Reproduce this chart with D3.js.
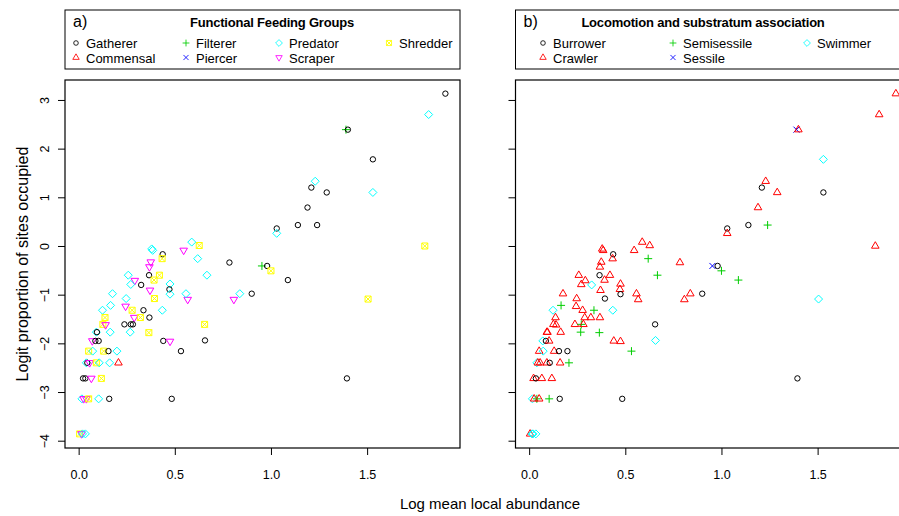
<!DOCTYPE html>
<html>
<head>
<meta charset="utf-8">
<script src="https://cdn.jsdelivr.net/npm/d3@7"></script>
<style>
  body { margin: 0; background: #fff; }
  text { font-family: "Liberation Sans", Arial, sans-serif; fill: #000; }
</style>
</head>
<body>
<svg id="chart" width="899" height="516"></svg>
<script>
// values (same taxa, coded two ways)
const abundance = [
  1.907, 1.82, 1.39, 1.40, 1.53, 1.53, 1.23, 1.21, 1.29, 1.19,
  1.14, 1.24, 1.03, 1.03, 0.784, 0.953, 0.98, 1.00, 1.088, 1.80,
  1.505, 1.395, 0.838, 0.807, 0.90, 0.655, 0.657, 0.667, 0.619, 0.627,
  0.588, 0.385, 0.38, 0.437, 0.546, 0.434, 0.375, 0.368, 0.258, 0.366,
  0.42, 0.292, 0.392, 0.271, 0.325, 0.475, 0.472, 0.371, 0.475, 0.394,
  0.567, 0.558, 0.176, 0.247, 0.166, 0.244, 0.124, 0.278, 0.337, 0.435,
  0.137, 0.289, 0.321, 0.368, 0.126, 0.14, 0.238, 0.271, 0.282, 0.164,
  0.268, 0.365, 0.092, 0.095, 0.071, 0.087, 0.104, 0.44, 0.475, 0.052,
  0.073, 0.13, 0.155, 0.199, 0.532, 0.04, 0.045, 0.057, 0.092, 0.107,
  0.161, 0.207, 0.023, 0.035, 0.066, 0.118, 0.017, 0.026, 0.04, 0.052,
  0.104, 0.159, 0.484, 0.005, 0.015, 0.02, 0.035
];
const logitOcc = [
  3.13, 2.70, 2.39, 2.39, 1.78, 1.10, 1.33, 1.20, 1.10, 0.79,
  0.43, 0.43, 0.36, 0.26, -0.34, -0.41, -0.41, -0.51, -0.70, 0.0,
  -1.09, -2.72, -0.98, -1.10, -0.98, -1.61, -1.94, -0.60, -0.26, 0.01,
  0.08, -0.09, -0.06, -0.17, -0.09, -0.26, -0.33, -0.43, -0.60, -0.60,
  -0.60, -0.71, -0.70, -0.79, -0.80, -0.78, -0.89, -0.91, -0.99, -1.08,
  -1.10, -0.98, -0.98, -1.08, -1.22, -1.24, -1.32, -1.32, -1.32, -1.32,
  -1.47, -1.47, -1.47, -1.47, -1.61, -1.62, -1.61, -1.61, -1.61, -1.77,
  -1.77, -1.78, -1.77, -1.77, -1.95, -1.95, -1.95, -1.95, -1.96, -2.16,
  -2.16, -2.16, -2.16, -2.16, -2.16, -2.40, -2.40, -2.40, -2.40, -2.40,
  -2.40, -2.40, -2.72, -2.72, -2.72, -2.72, -3.14, -3.14, -3.14, -3.14,
  -3.14, -3.14, -3.14, -3.86, -3.86, -3.86, -3.86
];
const feeding = [
  "Gatherer", "Predator", "Filterer", "Gatherer", "Gatherer", "Predator", "Predator", "Gatherer", "Gatherer", "Gatherer",
  "Gatherer", "Gatherer", "Gatherer", "Predator", "Gatherer", "Filterer", "Gatherer", "Shredder", "Gatherer", "Shredder",
  "Shredder", "Gatherer", "Predator", "Scraper", "Gatherer", "Shredder", "Gatherer", "Predator", "Predator", "Shredder",
  "Predator", "Predator", "Predator", "Gatherer", "Scraper", "Shredder", "Scraper", "Scraper", "Predator", "Gatherer",
  "Shredder", "Scraper", "Shredder", "Predator", "Gatherer", "Predator", "Gatherer", "Scraper", "Predator", "Shredder",
  "Scraper", "Predator", "Predator", "Predator", "Predator", "Scraper", "Predator", "Shredder", "Gatherer", "Predator",
  "Shredder", "Scraper", "Shredder", "Gatherer", "Shredder", "Scraper", "Gatherer", "Gatherer", "Gatherer", "Predator",
  "Predator", "Shredder", "Predator", "Gatherer", "Scraper", "Gatherer", "Gatherer", "Gatherer", "Scraper", "Shredder",
  "Predator", "Shredder", "Gatherer", "Predator", "Gatherer", "Predator", "Gatherer", "Scraper", "Shredder", "Predator",
  "Predator", "Commensal", "Gatherer", "Gatherer", "Scraper", "Shredder", "Predator", "Scraper", "Scraper", "Shredder",
  "Predator", "Gatherer", "Gatherer", "Shredder", "Scraper", "Predator", "Predator"
];
const locomotion = [
  "Crawler", "Crawler", "Sessile", "Crawler", "Swimmer", "Burrower", "Crawler", "Burrower", "Crawler", "Crawler",
  "Burrower", "Semisessile", "Burrower", "Crawler", "Crawler", "Sessile", "Burrower", "Semisessile", "Semisessile", "Crawler",
  "Swimmer", "Burrower", "Crawler", "Crawler", "Burrower", "Burrower", "Swimmer", "Semisessile", "Semisessile", "Crawler",
  "Crawler", "Crawler", "Crawler", "Burrower", "Crawler", "Crawler", "Crawler", "Crawler", "Crawler", "Burrower",
  "Crawler", "Crawler", "Crawler", "Crawler", "Swimmer", "Crawler", "Crawler", "Crawler", "Burrower", "Burrower",
  "Crawler", "Crawler", "Crawler", "Crawler", "Semisessile", "Crawler", "Swimmer", "Crawler", "Semisessile", "Swimmer",
  "Crawler", "Crawler", "Crawler", "Crawler", "Crawler", "Crawler", "Crawler", "Semisessile", "Crawler", "Crawler",
  "Semisessile", "Semisessile", "Crawler", "Crawler", "Swimmer", "Burrower", "Crawler", "Crawler", "Crawler", "Crawler",
  "Swimmer", "Crawler", "Burrower", "Burrower", "Semisessile", "Swimmer", "Crawler", "Crawler", "Crawler", "Burrower",
  "Crawler", "Semisessile", "Crawler", "Burrower", "Crawler", "Crawler", "Swimmer", "Crawler", "Semisessile", "Crawler",
  "Semisessile", "Burrower", "Burrower", "Crawler", "Swimmer", "Swimmer", "Swimmer"
];

const feedingGroups = ["Gatherer", "Commensal", "Filterer", "Piercer", "Predator", "Scraper", "Shredder"];
const locoGroups = ["Burrower", "Crawler", "Semisessile", "Sessile", "Swimmer"];
const xTicks = [0, 0.5, 1, 1.5];
const yTicks = [-4, -3, -2, -1, 0, 1, 2, 3];

// R default palette and pch 1..7
const palette = ["#000000", "#FF0000", "#00CD00", "#0000FF", "#00FFFF", "#FF00FF", "#FFFF00"];
const shapes = [
  "M2.7,0A2.7,2.7 0 1,1 -2.7,0A2.7,2.7 0 1,1 2.7,0Z",
  "M0,-4.3L3.8,2.2L-3.8,2.2Z",
  "M-4,0H4M0,-4V4",
  "M-3,-3L3,3M-3,3L3,-3",
  "M0,-4L4,0L0,4L-4,0Z",
  "M0,4.3L3.8,-2.2L-3.8,-2.2Z",
  "M-3,-3H3V3H-3ZM-3,-3L3,3M-3,3L3,-3"
];

const svg = d3.select('#chart');
const points = abundance.map((d, i) => ({ x: d, y: logitOcc[i], ffg: feeding[i], loc: locomotion[i] }));

const plotTop = 80, plotBottom = 448, plotWidth = 395;
const y = d3.scaleLinear().domain([-4.15, 3.41]).range([plotBottom, plotTop]);

function panel(left, groups, key, letter, title, legendCols, showYLabels) {
  const x = d3.scaleLinear().domain([-0.071, 1.983]).range([left, left + plotWidth]);
  const g = svg.append('g');

  // legend
  g.append('rect')
    .attr('x', left).attr('y', 10).attr('width', plotWidth).attr('height', 59)
    .attr('fill', 'none').attr('stroke', '#000').attr('stroke-width', 1);
  g.append('text').attr('x', left + 8).attr('y', 27).style('font-size', '16px').text(letter);
  g.append('text').attr('x', title.cx).attr('y', 26.5)
    .attr('text-anchor', 'middle').style('font-size', '13px').style('font-weight', 'bold')
    .style('letter-spacing', '-0.2px').text(title.text);

  const items = g.selectAll('g.item')
    .data(groups)
    .join('g')
      .attr('class', 'item')
      .attr('transform', (d, i) => `translate(${legendCols[Math.floor(i / 2)]},${i % 2 ? 57.5 : 43})`);
  items.append('path')
    .attr('d', (d, i) => shapes[i])
    .attr('fill', 'none')
    .attr('stroke', (d, i) => palette[i])
    .attr('stroke-width', 1)
    .attr('transform', 'scale(0.85)');
  items.append('text')
    .attr('x', 10).attr('y', 5)
    .style('font-size', '13px')
    .text(d => d);

  // axes
  const xAxis = g.append('g')
    .attr('transform', `translate(0,${plotBottom})`)
    .call(d3.axisBottom(x).tickValues(xTicks).tickSize(7).tickPadding(15).tickFormat(d3.format('.1f')));
  xAxis.select('.domain').remove();
  xAxis.selectAll('text').style('font-size', '12.5px');

  const yAxis = g.append('g')
    .attr('transform', `translate(${left},0)`)
    .call(d3.axisLeft(y).tickValues(yTicks).tickSize(7).tickFormat(d3.format('d')));
  yAxis.select('.domain').remove();
  yAxis.selectAll('text')
    .attr('x', 0).attr('dy', '0.35em')
    .attr('text-anchor', 'middle')
    .attr('transform', 'translate(-20,0) rotate(-90)')
    .style('font-size', '12.5px')
    .style('display', showYLabels ? null : 'none');

  // points
  g.append('g').selectAll('path')
    .data(points)
    .join('path')
      .attr('transform', d => `translate(${x(d.x)},${y(d.y)})`)
      .attr('d', d => shapes[groups.indexOf(d[key])])
      .attr('fill', 'none')
      .attr('stroke', d => palette[groups.indexOf(d[key])])
      .attr('stroke-width', 1);

  g.append('rect')
    .attr('x', left).attr('y', plotTop).attr('width', plotWidth).attr('height', plotBottom - plotTop)
    .attr('fill', 'none').attr('stroke', '#000').attr('stroke-width', 1.2);
}

panel(65, feedingGroups, 'ffg', 'a)',
  { text: 'Functional Feeding Groups', cx: 272 }, [76, 186, 279, 389], true);
panel(515.5, locoGroups, 'loc', 'b)',
  { text: 'Locomotion and substratum association', cx: 703 }, [543, 673, 807], false);

svg.append('text')
  .attr('transform', `translate(22,${(plotTop + plotBottom) / 2}) rotate(-90)`)
  .attr('text-anchor', 'middle').attr('dy', '0.35em')
  .style('font-size', '16px')
  .text('Logit proportion of sites occupied');

svg.append('text')
  .attr('x', 490).attr('y', 509)
  .attr('text-anchor', 'middle')
  .style('font-size', '15px')
  .text('Log mean local abundance');
</script>
</body>
</html>
